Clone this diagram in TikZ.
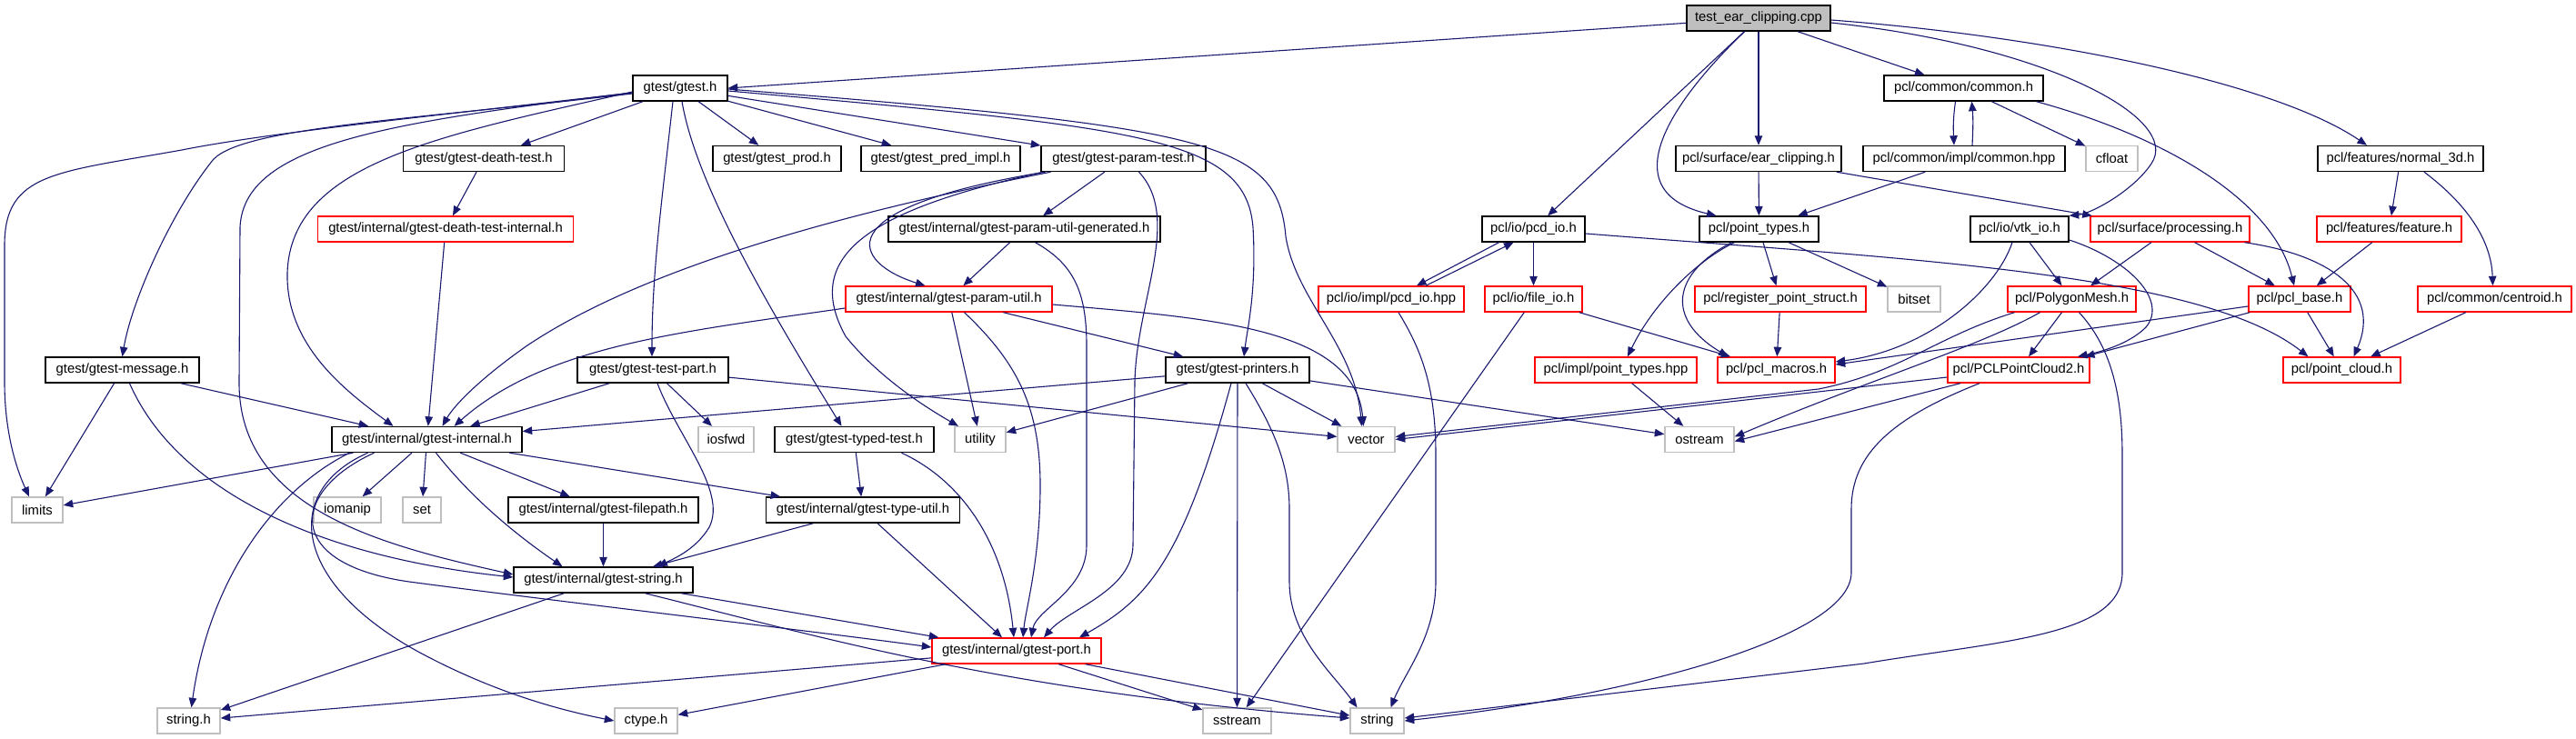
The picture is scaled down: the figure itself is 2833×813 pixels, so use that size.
\documentclass[tikz,border=0pt]{standalone}
\usepackage{fontspec}
\setmainfont{Liberation Sans}
\usetikzlibrary{arrows.meta}
\definecolor{edgecol}{HTML}{191970}
\definecolor{graybd}{HTML}{BFBFBF}
\definecolor{rootfill}{HTML}{BFBFBF}
\definecolor{redbd}{HTML}{FF0000}
\newcommand\nodefont{\fontsize{14.8}{17}\selectfont}
\tikzset{
  nd/.style={draw=black, line width=1.4pt, fill=white, minimum height=28pt, inner xsep=3pt, inner ysep=0pt, font=\nodefont, anchor=center},
  rd/.style={nd, draw=redbd},
  gy/.style={nd, draw=graybd},
  rootnd/.style={nd, fill=rootfill},
  edg/.style={draw=edgecol, line width=1.1pt, -{Triangle[length=10.5pt,width=8.5pt]}}
}
\begin{document}
\begin{tikzpicture}[x=1pt,y=-1pt]
\fill[white] (0,0) rectangle (2833,813);
\useasboundingbox (0,0) rectangle (2833,813);
% nodes
\node[rootnd, minimum width=158pt] (T) at (1934,20) {test\_ear\_clipping.cpp};
\node[nd, minimum width=104pt] (G) at (748,97) {gtest/gtest.h};
\node[nd, minimum width=175pt] (cc) at (2159.5,97) {pcl/common/common.h};
\node[nd, minimum width=177pt] (dt) at (532,174.5) {gtest/gtest-death-test.h};
\node[nd, minimum width=141pt] (prod) at (854.5,174.5) {gtest/gtest\_prod.h};
\node[nd, minimum width=175pt] (pred) at (1034.5,174.5) {gtest/gtest\_pred\_impl.h};
\node[nd, minimum width=181pt] (ptest) at (1235.5,174.5) {gtest/gtest-param-test.h};
\node[nd, minimum width=182pt] (ec) at (1934,174.5) {pcl/surface/ear\_clipping.h};
\node[nd, minimum width=222pt] (chpp) at (2160,174.5) {pcl/common/impl/common.hpp};
\node[gy, minimum width=57pt] (cfloat) at (2322.5,174.5) {cfloat};
\node[nd, minimum width=182pt] (n3d) at (2640,174.5) {pcl/features/normal\_3d.h};
\node[rd, minimum width=281pt] (dti) at (490,252) {gtest/internal/gtest-death-test-internal.h};
\node[nd, minimum width=299pt] (pug) at (1126.5,252) {gtest/internal/gtest-param-util-generated.h};
\node[nd, minimum width=113pt] (pcd) at (1686.5,252) {pcl/io/pcd\_io.h};
\node[nd, minimum width=131pt] (ptypes) at (1934.5,252) {pcl/point\_types.h};
\node[nd, minimum width=108pt] (vtk) at (2221,252) {pcl/io/vtk\_io.h};
\node[rd, minimum width=175pt] (proc) at (2386.5,252) {pcl/surface/processing.h};
\node[rd, minimum width=159pt] (feat) at (2627.5,252) {pcl/features/feature.h};
\node[rd, minimum width=227pt] (pu) at (1043.5,329) {gtest/internal/gtest-param-util.h};
\node[rd, minimum width=160pt] (pcdhpp) at (1530,329) {pcl/io/impl/pcd\_io.hpp};
\node[rd, minimum width=107pt] (fileio) at (1686.5,329) {pcl/io/file\_io.h};
\node[rd, minimum width=188pt] (rps) at (1958,329) {pcl/register\_point\_struct.h};
\node[gy, minimum width=58pt] (bitset) at (2105,329) {bitset};
\node[rd, minimum width=141pt] (pmesh) at (2278.5,329) {pcl/PolygonMesh.h};
\node[rd, minimum width=112pt] (pbase) at (2529,329) {pcl/pcl\_base.h};
\node[rd, minimum width=169pt] (centroid) at (2743.5,329) {pcl/common/centroid.h};
\node[nd, minimum width=169pt] (msg) at (134.5,407) {gtest/gtest-message.h};
\node[nd, minimum width=166pt] (tp) at (718,407) {gtest/gtest-test-part.h};
\node[nd, minimum width=158pt] (pr) at (1361,407) {gtest/gtest-printers.h};
\node[rd, minimum width=178pt] (iptypes) at (1777,407) {pcl/impl/point\_types.hpp};
\node[rd, minimum width=129pt] (macros) at (1953.5,407) {pcl/pcl\_macros.h};
\node[rd, minimum width=156pt] (pc2) at (2220,407) {pcl/PCLPointCloud2.h};
\node[rd, minimum width=129pt] (pcloud) at (2575.5,407) {pcl/point\_cloud.h};
\node[nd, minimum width=209pt] (gi) at (469.5,483.5) {gtest/internal/gtest-internal.h};
\node[gy, minimum width=61pt] (iosfwd) at (798.5,483.5) {iosfwd};
\node[nd, minimum width=175pt] (tt) at (939.5,483.5) {gtest/gtest-typed-test.h};
\node[gy, minimum width=56pt] (utility) at (1078,483.5) {utility};
\node[gy, minimum width=63pt] (vector) at (1502.5,483.5) {vector};
\node[gy, minimum width=76pt] (ostream) at (1869,483.5) {ostream};
\node[gy, minimum width=56pt] (limits) at (41,561) {limits};
\node[gy, minimum width=74pt] (iomanip) at (382,561) {iomanip};
\node[gy, minimum width=42pt] (setn) at (464,561) {set};
\node[nd, minimum width=209pt] (fp) at (663.5,561) {gtest/internal/gtest-filepath.h};
\node[nd, minimum width=213pt] (tu) at (949,561) {gtest/internal/gtest-type-util.h};
\node[nd, minimum width=197pt] (gs) at (663.5,638) {gtest/internal/gtest-string.h};
\node[rd, minimum width=186pt] (gp) at (1118,716) {gtest/internal/gtest-port.h};
\node[gy, minimum width=69pt] (stringh) at (207.5,793) {string.h};
\node[gy, minimum width=69pt] (ctype) at (710.5,793) {ctype.h};
\node[gy, minimum width=75pt] (sstream) at (1360.5,793) {sstream};
\node[gy, minimum width=59pt] (stringn) at (1514.5,793) {string};
% edges from root
\draw[edg] (T) -- (G.east);
\draw[edg] (T) -- (pcd);
\draw[edg] (T) .. controls (1840,110) and (1770,210) .. ([xshift=-47pt]ptypes.north);
\draw[edg] (T) -- (ec);
\draw[edg] (T) -- (cc);
\draw[edg] ([yshift=-5pt]T.east) .. controls (2250,50) and (2400,130) .. (2366,180) .. controls (2346,210) and (2300,235) .. (vtk.north east);
\draw[edg] ([yshift=-2pt]T.east) .. controls (2250,40) and (2500,90) .. ([xshift=-37pt]n3d.north);
% gtest.h
\draw[edg] (G) -- (dt);
\draw[edg] (G) -- (prod);
\draw[edg] (G) -- (pred);
\draw[edg] (G) -- (ptest);
\draw[edg] ([yshift=-3pt]G.east) .. controls (1250,140) and (1370,150) .. (1378,250) .. controls (1382,320) and (1372,360) .. ([xshift=7pt]pr.north);
\draw[edg] ([yshift=-1pt]G.east) .. controls (1330,140) and (1405,155) .. (1414,260) .. controls (1425,330) and (1490,380) .. ([xshift=-5pt]vector.north);
\draw[edg] ([xshift=-8pt]G.south) .. controls (728,220) and (717,300) .. ([xshift=-1pt]tp.north);
\draw[edg] ([xshift=2pt]G.south) .. controls (765,200) and (840,330) .. ([xshift=-14pt]tt.north);
\draw[edg] ([yshift=-6pt]G.west) .. controls (450,132) and (270,140) .. (235,175) .. controls (190,230) and (145,330) .. (msg.north);
\draw[edg] ([yshift=-5pt]G.west) .. controls (500,125) and (300,145) .. (200,165) .. controls (60,190) and (5,190) .. (5,270) -- (5,420) .. controls (5,480) and (20,520) .. ([xshift=-9pt]limits.north);
\draw[edg] ([yshift=-4pt]G.west) .. controls (480,150) and (320,180) .. (316,300) .. controls (314,380) and (380,430) .. ([xshift=-37pt]gi.north);
\draw[edg] ([yshift=-5pt]G.west) .. controls (420,135) and (268,160) .. (264,250) -- (263,420) .. controls (262,560) and (420,600) .. ([yshift=6pt]gs.west);
% death test
\draw[edg] (dt) -- (dti);
\draw[edg] (dti) -- (gi);
% param test
\draw[edg] (ptest) -- (pug);
\draw[edg] ([xshift=-86pt]ptest.south) .. controls (900,230) and (940,290) .. ([xshift=-26pt]pu.north);
\draw[edg] ([xshift=-80pt]ptest.south) .. controls (900,240) and (700,300) .. (580,380) .. controls (530,415) and (500,445) .. ([xshift=17pt]gi.north);
\draw[edg] ([xshift=-88pt]ptest.south) .. controls (960,230) and (880,280) .. (930,370) .. controls (970,420) and (1030,455) .. ([xshift=-24pt]utility.north);
\draw[edg] ([xshift=17pt]ptest.south) .. controls (1300,240) and (1250,330) .. (1248,420) -- (1246,600) .. controls (1245,650) and (1175,670) .. ([xshift=30pt]gp.north);
\draw[edg] (pug) -- (pu);
\draw[edg] ([xshift=12pt]pug.south) .. controls (1180,290) and (1195,320) .. (1195,380) -- (1195,600) .. controls (1195,650) and (1140,670) .. ([xshift=16pt]gp.north);
% param util
\draw[edg] ([yshift=-10pt]pu.west) .. controls (750,365) and (600,380) .. ([xshift=30pt]gi.north);
\draw[edg] (pu) -- (utility);
\draw[edg] ([xshift=17pt]pu.south) .. controls (1120,400) and (1145,450) .. (1144,540) .. controls (1143,620) and (1128,670) .. ([xshift=7pt]gp.north);
\draw[edg] (pu) -- (pr);
\draw[edg] ([yshift=-6pt]pu.east) .. controls (1330,350) and (1490,360) .. ([xshift=-3pt]vector.north);
% message
\draw[edg] (msg) -- (limits);
\draw[edg] (msg) -- (gi);
\draw[edg] ([xshift=8pt]msg.south) .. controls (190,530) and (330,610) .. ([yshift=3pt]gs.west);
% test part
\draw[edg] (tp) -- (gi);
\draw[edg] (tp) -- (iosfwd);
\draw[edg] ([xshift=5pt]tp.south) .. controls (745,480) and (800,540) .. (780,580) .. controls (765,605) and (740,615) .. ([xshift=60pt]gs.north);
\draw[edg] (tp) -- (vector);
% printers
\draw[edg] (pr) -- (gi);
\draw[edg] (pr) -- (utility);
\draw[edg] (pr) -- (vector);
\draw[edg] (pr) -- (ostream);
\draw[edg] (pr) -- (sstream);
\draw[edg] ([xshift=9pt]pr.south) .. controls (1400,470) and (1418,510) .. (1418,560) -- (1418,640) .. controls (1418,700) and (1465,740) .. ([xshift=-22pt]stringn.north);
\draw[edg] ([xshift=-7pt]pr.south) .. controls (1300,620) and (1260,660) .. ([xshift=69pt]gp.north);
% gtest-internal
\draw[edg] (gi) -- (limits);
\draw[edg] (gi) -- (iomanip);
\draw[edg] (gi) -- (setn);
\draw[edg] (gi) -- (fp);
\draw[edg] ([xshift=10pt]gi.south) .. controls (520,550) and (570,590) .. ([xshift=-45pt]gs.north);
\draw[edg] (gi) -- (tu);
\draw[edg] ([xshift=-85pt]gi.south) .. controls (300,540) and (230,640) .. ([xshift=3pt]stringh.north);
\draw[edg] ([xshift=-65pt]gi.south) .. controls (310,540) and (320,640) .. (460,717) .. controls (540,760) and (610,780) .. (ctype.west);
\draw[edg] ([xshift=-58pt]gi.south) .. controls (320,540) and (310,620) .. (450,640) .. controls (600,660) and (900,695) .. ([yshift=4pt]gp.west);
% others gtest
\draw[edg] (fp) -- (gs);
\draw[edg] (tt) -- (tu);
\draw[edg] ([xshift=52pt]tt.south) .. controls (1060,530) and (1105,600) .. ([xshift=-3pt]gp.north);
\draw[edg] (tu) -- (gs);
\draw[edg] (tu) -- (gp);
\draw[edg] (gs) -- (stringh);
\draw[edg] (gs) -- (gp);
\draw[edg] ([xshift=46pt]gs.south) .. controls (900,700) and (1100,760) .. ([yshift=3pt]stringn.west);
\draw[edg] (gp) -- (stringh);
\draw[edg] (gp) -- (ctype);
\draw[edg] (gp) -- (sstream);
\draw[edg] (gp) -- (stringn);
% pcl common
\draw[edg] ([xshift=-9pt]cc.south) .. controls (2148,130) and (2148,140) .. ([xshift=-11pt]chpp.north);
\draw[edg] ([xshift=9pt]chpp.north) .. controls (2170,140) and (2170,130) .. ([xshift=9pt]cc.south);
\draw[edg] (cc) -- (cfloat);
\draw[edg] ([xshift=80pt]cc.south) .. controls (2380,150) and (2500,220) .. ([xshift=-6pt]pbase.north);
\draw[edg] (chpp) -- (ptypes);
\draw[edg] (ec) -- (ptypes);
\draw[edg] (ec) -- (proc);
\draw[edg] (n3d) -- (feat);
\draw[edg] ([xshift=26pt]n3d.south) .. controls (2720,230) and (2740,270) .. ([xshift=-2pt]centroid.north);
\draw[edg] (feat) -- (pbase);
\draw[edg] (centroid) -- (pcloud);
% io
\draw[edg] ([xshift=-38pt]pcd.south) -- ([xshift=28pt]pcdhpp.north);
\draw[edg] ([xshift=38pt]pcdhpp.north) -- ([xshift=-22pt]pcd.south);
\draw[edg] (pcd) -- (fileio);
\draw[edg] ([yshift=-5pt]pcd.east) .. controls (2100,285) and (2420,300) .. ([xshift=-37pt]pcloud.north);
\draw[edg] ([xshift=8pt]pcdhpp.south) .. controls (1560,380) and (1579,420) .. (1579,500) -- (1579,640) .. controls (1579,700) and (1545,740) .. ([xshift=15pt]stringn.north);
\draw[edg] (fileio) -- (macros);
\draw[edg] (fileio) -- (sstream);
% point types
\draw[edg] ([xshift=-27pt]ptypes.south) .. controls (1860,290) and (1815,340) .. ([xshift=13pt]iptypes.north);
\draw[edg] ([xshift=-30pt]ptypes.south) .. controls (1840,300) and (1830,350) .. ([xshift=-53pt]macros.north);
\draw[edg] (ptypes) -- (rps);
\draw[edg] (ptypes) -- (bitset);
\draw[edg] (rps) -- (macros);
\draw[edg] (iptypes) -- (ostream);
% vtk, processing, base
\draw[edg] (vtk) -- (pmesh);
\draw[edg] ([xshift=-8pt]vtk.south) .. controls (2195,320) and (2120,385) .. ([yshift=9pt]macros.east);
\draw[edg] ([yshift=-12pt]vtk.east) .. controls (2340,285) and (2385,330) .. (2360,360) .. controls (2345,375) and (2320,385) .. ([xshift=65pt]pc2.north);
\draw[edg] (proc) -- (pmesh);
\draw[edg] (proc) -- (pbase);
\draw[edg] ([xshift=82pt]proc.south) .. controls (2560,280) and (2620,320) .. ([xshift=13pt]pcloud.north);
\draw[edg] (pbase) -- (pcloud);
\draw[edg] (pbase) -- ([xshift=73pt]pc2.north);
\draw[edg] (pbase) -- ([yshift=6pt]macros.east);
% polygon mesh, pointcloud2
\draw[edg] (pmesh) -- (pc2);
\draw[edg] ([xshift=8pt]pmesh.south) .. controls (2320,380) and (2334,430) .. (2334,500) -- (2334,630) .. controls (2334,700) and (2200,705) .. (2050,730) -- ([yshift=3pt]stringn.east);
\draw[edg] ([xshift=-63pt]pmesh.south) .. controls (2130,370) and (2090,410) .. (2000,428) -- ([yshift=3pt]vector.east);
\draw[edg] ([xshift=-35pt]pmesh.south) .. controls (2180,380) and (2050,420) .. ([yshift=3pt]ostream.east);
\draw[edg] ([yshift=-8pt]pc2.west) -- (vector.east);
\draw[edg] ([xshift=-64pt]pc2.south) -- ([yshift=-2pt]ostream.east);
\draw[edg] ([xshift=-43pt]pc2.south) .. controls (2080,460) and (2036,500) .. (2036,560) -- (2036,630) .. controls (2036,700) and (1800,765) .. ([yshift=0pt]stringn.east);
\end{tikzpicture}
\end{document}
